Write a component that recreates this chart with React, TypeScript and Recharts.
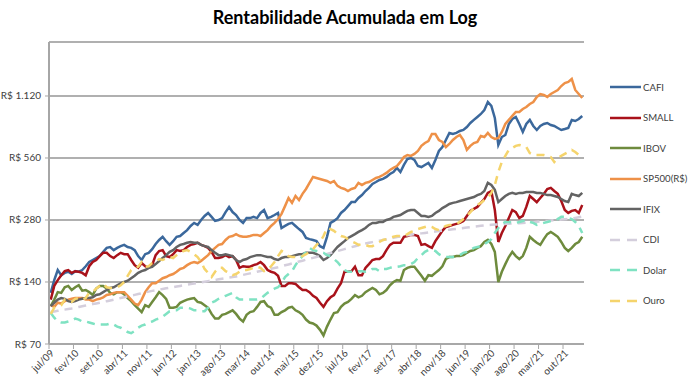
import { LineChart, Line, XAxis, YAxis, CartesianGrid } from "recharts"

document.body.style.margin = "0"

// month ticks (every 7 months, jul/09 .. out/21)
const tickLabels = [
  "jul/09", "fev/10", "set/10", "abr/11", "nov/11", "jun/12", "jan/13", "ago/13",
  "mar/14", "out/14", "mai/15", "dez/15", "jul/16", "fev/17", "set/17", "abr/18",
  "nov/18", "jun/19", "jan/20", "ago/20", "mar/21", "out/21",
]

const yTicks = [70, 140, 280, 560, 1120]

// monthly series, jul/09 .. mar/22
const cafi = [
  124, 143, 160, 151, 155, 157, 153, 158, 157, 160,
  167, 175, 179, 183, 187, 196, 205, 207, 200, 205,
  209, 212, 207, 205, 200, 187, 179, 191, 194, 202,
  214, 224, 232, 221, 212, 221, 232, 234, 242, 250,
  262, 271, 265, 280, 293, 303, 290, 277, 280, 286,
  306, 324, 306, 296, 280, 271, 286, 286, 290, 286,
  303, 313, 286, 290, 296, 303, 256, 262, 268, 271,
  262, 253, 245, 229, 226, 224, 221, 209, 205, 232,
  271, 277, 286, 303, 313, 327, 342, 342, 358, 370,
  387, 401, 419, 428, 438, 443, 453, 468, 479, 501,
  479, 518, 554, 560, 548, 512, 506, 518, 530, 501,
  548, 606, 633, 685, 741, 732, 741, 757, 766, 792,
  828, 857, 886, 916, 958, 1047, 1002, 876, 648, 708,
  724, 819, 866, 886, 819, 749, 819, 857, 801, 766,
  801, 819, 828, 810, 801, 783, 766, 774, 783, 857,
  847, 866, 896,
]

const small = [
  115, 134, 143, 151, 158, 160, 155, 158, 157, 155,
  151, 167, 175, 179, 187, 194, 194, 187, 183, 189,
  194, 191, 191, 179, 169, 164, 173, 167, 164, 169,
  189, 198, 200, 187, 185, 191, 200, 198, 200, 207,
  212, 214, 217, 212, 209, 205, 196, 183, 183, 185,
  189, 185, 187, 179, 164, 167, 166, 166, 169, 171,
  175, 169, 160, 157, 155, 150, 134, 134, 138, 138,
  137, 132, 128, 128, 125, 120, 117, 111, 106, 113,
  118, 121, 130, 138, 157, 157, 158, 166, 151, 151,
  164, 171, 179, 181, 181, 187, 200, 212, 217, 217,
  217, 232, 234, 237, 237, 234, 212, 214, 209, 205,
  221, 234, 248, 259, 262, 265, 268, 271, 277, 293,
  310, 317, 324, 339, 354, 379, 387, 313, 219, 242,
  262, 286, 313, 306, 286, 293, 324, 366, 354, 342,
  358, 375, 396, 401, 387, 375, 346, 313, 303, 310,
  313, 303, 331,
]

const ibov = [
  107, 115, 125, 124, 132, 134, 128, 132, 135, 127,
  128, 125, 121, 130, 134, 134, 130, 124, 122, 125,
  125, 122, 117, 113, 108, 104, 100, 108, 106, 112,
  118, 125, 121, 116, 105, 105, 106, 111, 113, 115,
  116, 117, 112, 111, 108, 105, 98, 93, 93, 97,
  98, 100, 102, 98, 93, 90, 97, 100, 101, 106,
  112, 113, 107, 105, 97, 97, 100, 102, 105, 106,
  102, 100, 97, 92, 89, 88, 86, 82, 77, 85,
  92, 99, 100, 106, 110, 112, 116, 121, 118, 120,
  125, 128, 131, 128, 122, 124, 128, 135, 140, 143,
  142, 160, 164, 166, 166, 158, 150, 142, 151, 150,
  155, 160, 167, 181, 185, 185, 187, 187, 189, 194,
  198, 200, 205, 209, 219, 224, 214, 196, 140, 157,
  171, 185, 196, 187, 181, 187, 205, 232, 224, 217,
  212, 226, 239, 245, 239, 232, 219, 205, 198, 205,
  214, 219, 232,
]

const sp500 = [
  108, 106, 111, 110, 113, 115, 116, 117, 117, 117,
  115, 115, 113, 115, 116, 118, 121, 122, 124, 125,
  125, 125, 120, 115, 110, 108, 115, 125, 132, 138,
  138, 142, 146, 148, 151, 153, 157, 162, 164, 169,
  173, 175, 173, 177, 183, 189, 198, 205, 212, 214,
  224, 232, 234, 239, 234, 232, 232, 234, 237, 237,
  234, 242, 250, 262, 271, 283, 300, 327, 358, 339,
  366, 350, 375, 396, 424, 453, 448, 443, 438, 433,
  424, 433, 410, 401, 396, 387, 396, 401, 424, 414,
  424, 428, 438, 448, 453, 463, 474, 490, 501, 512,
  536, 566, 579, 573, 586, 606, 641, 662, 677, 732,
  732, 685, 670, 633, 655, 685, 708, 724, 685, 613,
  641, 662, 670, 716, 708, 741, 708, 693, 700, 749,
  819, 857, 896, 937, 937, 969, 990, 1024, 1047, 1108,
  1145, 1133, 1108, 1145, 1171, 1198, 1252, 1295, 1310, 1354,
  1198, 1145, 1095,
]

const ifix = [
  107, 111, 115, 117, 116, 113, 112, 113, 115, 116,
  117, 117, 118, 121, 122, 125, 128, 131, 132, 135,
  138, 140, 142, 146, 150, 155, 158, 160, 164, 166,
  171, 177, 183, 189, 196, 200, 207, 212, 214, 217,
  219, 217, 217, 212, 209, 207, 200, 194, 189, 189,
  191, 189, 187, 179, 175, 179, 181, 185, 187, 189,
  189, 187, 185, 185, 181, 179, 183, 185, 185, 187,
  189, 191, 191, 194, 194, 194, 191, 187, 179, 183,
  189, 198, 207, 214, 221, 229, 234, 239, 245, 250,
  256, 265, 271, 271, 274, 274, 280, 283, 290, 293,
  296, 303, 310, 313, 313, 303, 293, 293, 290, 293,
  303, 310, 320, 327, 335, 339, 342, 346, 350, 354,
  358, 362, 370, 375, 387, 424, 414, 392, 342, 354,
  366, 375, 379, 375, 379, 379, 383, 383, 383, 379,
  379, 375, 370, 370, 366, 362, 354, 346, 342, 375,
  370, 366, 379,
]

const cdi = [
  100, 100.7, 101.4, 102.1, 102.8, 103.5, 104.2, 105, 105.9, 106.7,
  107.6, 108.5, 109.4, 110.2, 111.1, 112, 113, 113.9, 114.9, 115.9,
  117, 118, 119.1, 120.2, 121.2, 122.3, 123.4, 124.5, 125.7, 126.8,
  127.7, 128.6, 129.5, 130.4, 131.3, 132.2, 133.1, 134, 134.9, 135.8,
  136.7, 137.7, 138.6, 139.5, 140.4, 141.4, 142.3, 143.2, 144.2, 145.1,
  146.1, 147.1, 148, 149, 150.3, 151.6, 152.9, 154.2, 155.5, 156.9,
  158.2, 159.6, 161, 162.4, 163.8, 165.2, 166.9, 168.7, 170.4, 172.2,
  174, 175.9, 177.7, 179.6, 181.5, 183.4, 185.3, 187.2, 189.3, 191.4,
  193.5, 195.6, 197.8, 199.9, 202.1, 204.4, 206.6, 208.9, 211.2, 213.5,
  215.2, 216.9, 218.6, 220.4, 222.2, 223.9, 225.7, 227.5, 229.4, 231.2,
  233, 234.9, 236.1, 237.4, 238.6, 239.8, 241.1, 242.4, 243.6, 244.9,
  246.2, 247.4, 248.7, 250, 251.2, 252.4, 253.6, 254.8, 256.1, 257.3,
  258.5, 259.8, 261, 262.3, 263.5, 264.8, 265.4, 266, 266.6, 267.2,
  267.8, 268.5, 269.1, 269.7, 270.3, 271, 271.6, 272.2, 273.2, 274.2,
  275.2, 276.2, 277.2, 278.2, 279.2, 280.2, 281.2, 282.2, 283.2, 284.2,
  286.5, 288.7, 291,
]

const dolar = [
  99, 94, 90, 89, 89, 90, 91, 93, 92, 90,
  90, 89, 88, 87, 87, 87, 87, 88, 87, 85,
  84, 82, 80, 79, 81, 84, 86, 87, 89, 90,
  92, 93, 95, 98, 101, 102, 102, 105, 105, 105,
  104, 102, 102, 101, 101, 105, 111, 113, 116, 118,
  120, 122, 124, 118, 115, 115, 115, 115, 115, 115,
  116, 120, 124, 127, 130, 132, 138, 148, 153, 158,
  169, 179, 187, 196, 205, 200, 198, 196, 194, 189,
  187, 181, 175, 167, 160, 157, 157, 157, 158, 158,
  157, 158, 162, 162, 158, 162, 162, 164, 166, 166,
  167, 169, 169, 171, 175, 183, 189, 196, 200, 200,
  198, 191, 187, 185, 185, 185, 187, 189, 194, 196,
  200, 205, 207, 209, 214, 219, 226, 242, 256, 268,
  274, 274, 271, 271, 274, 277, 280, 274, 271, 265,
  268, 271, 274, 277, 280, 283, 290, 290, 286, 283,
  274, 262, 242,
]

const ouro = [
  98, 105, 106, 108, 115, 113, 112, 116, 117, 115,
  117, 124, 125, 130, 134, 137, 132, 131, 131, 132,
  135, 140, 150, 160, 164, 166, 175, 166, 167, 173,
  175, 181, 179, 183, 185, 183, 189, 194, 198, 200,
  196, 191, 185, 175, 162, 155, 148, 157, 164, 164,
  158, 155, 151, 153, 157, 160, 160, 162, 164, 166,
  164, 158, 160, 167, 175, 187, 198, 194, 187, 185,
  185, 185, 187, 191, 196, 202, 212, 219, 234, 256,
  253, 248, 239, 234, 232, 226, 221, 217, 212, 214,
  212, 209, 209, 214, 219, 224, 226, 229, 232, 234,
  234, 234, 239, 245, 248, 253, 256, 259, 262, 259,
  253, 250, 256, 262, 265, 265, 268, 274, 283, 293,
  306, 320, 331, 339, 350, 358, 379, 414, 479, 536,
  573, 613, 626, 641, 648, 641, 633, 592, 579, 579,
  579, 579, 573, 566, 536, 560, 573, 586, 599, 613,
  599, 579, 560,
]

const SERIES = [
  { key: "CAFI", values: cafi, color: "#3B689C", dashed: false },
  { key: "SMALL", values: small, color: "#A9121A", dashed: false },
  { key: "IBOV", values: ibov, color: "#6E8B3D", dashed: false },
  { key: "SP500(R$)", values: sp500, color: "#EE9148", dashed: false },
  { key: "IFIX", values: ifix, color: "#636363", dashed: false },
  { key: "CDI", values: cdi, color: "#D4CEDC", dashed: true },
  { key: "Dolar", values: dolar, color: "#7FE2C2", dashed: true },
  { key: "Ouro", values: ouro, color: "#F5D46C", dashed: true },
]

const chartData = cafi.map((_, i) => {
  const row: Record<string, number> = { idx: i + 0.5 }
  SERIES.forEach((s) => {
    row[s.key] = s.values[i]
  })
  return row
})

const FONT = "Lato, 'Liberation Sans', sans-serif"
const TEXT_COLOR = "#404040"
const AXIS_COLOR = "#A6A6A6"

function formatReais(v: number) {
  return "R$ " + String(v).replace(/\B(?=(\d{3})+(?!\d))/g, ".")
}

function MonthTick(props: any) {
  const { x, y, payload } = props
  return (
    <text
      x={x + 3}
      y={y}
      dy={4}
      textAnchor="end"
      transform={`rotate(-45, ${x + 3}, ${y})`}
      fontSize={10}
      fontFamily={FONT}
      fill={TEXT_COLOR}
    >
      {tickLabels[Math.round(payload.value / 7)]}
    </text>
  )
}

function ValueTick(props: any) {
  const { x, y, payload } = props
  return (
    <text
      x={x}
      y={y}
      dy={3.5}
      textAnchor="end"
      fontSize={10}
      fontFamily={FONT}
      fill={TEXT_COLOR}
    >
      {formatReais(payload.value)}
    </text>
  )
}

function ChartLegend() {
  return (
    <div style={{ position: "absolute", left: 610, top: 72, width: 80 }}>
      {SERIES.map((s) => (
        <div
          key={s.key}
          style={{
            display: "flex",
            alignItems: "center",
            height: 30.5,
            whiteSpace: "nowrap",
          }}
        >
          <svg width={31} height={6} style={{ flexShrink: 0 }}>
            <line
              x1={0}
              y1={3}
              x2={31}
              y2={3}
              stroke={s.color}
              strokeWidth={2.5}
              strokeDasharray={s.dashed ? "10 7" : undefined}
            />
          </svg>
          <span
            style={{
              marginLeft: 2,
              fontSize: 9.6,
              fontFamily: FONT,
              color: TEXT_COLOR,
            }}
          >
            {s.key}
          </span>
        </div>
      ))}
    </div>
  )
}

export default function App() {
  return (
    <div
      style={{
        position: "relative",
        width: 690,
        height: 389,
        background: "#FFFFFF",
        fontFamily: FONT,
      }}
    >
      <div
        style={{
          position: "absolute",
          top: 6,
          left: 0,
          width: 690,
          textAlign: "center",
          fontSize: 18,
          fontWeight: 700,
          color: "#000000",
        }}
      >
        Rentabilidade Acumulada em Log
      </div>
      <LineChart
        width={690}
        height={389}
        data={chartData}
        margin={{ top: 42, right: 106, left: 0, bottom: 0 }}
      >
        <CartesianGrid vertical={false} stroke="#969696" strokeWidth={1.5} />
        <XAxis
          dataKey="idx"
          type="number"
          domain={[0, cafi.length]}
          ticks={tickLabels.map((_, k) => k * 7)}
          interval={0}
          height={45}
          axisLine={{ stroke: AXIS_COLOR, strokeWidth: 1.5 }}
          tickLine={{ stroke: AXIS_COLOR }}
          tickSize={5}
          tickMargin={2}
          tick={<MonthTick />}
        />
        <YAxis
          type="number"
          scale="log"
          domain={[70, 2048]}
          allowDataOverflow
          ticks={yTicks}
          interval={0}
          width={49}
          axisLine={{ stroke: AXIS_COLOR, strokeWidth: 2 }}
          tickLine={{ stroke: AXIS_COLOR }}
          tickSize={4}
          tickMargin={4}
          tick={<ValueTick />}
        />
        {SERIES.map((s) => (
          <Line
            key={s.key}
            type="linear"
            dataKey={s.key}
            stroke={s.color}
            strokeWidth={2.5}
            strokeDasharray={s.dashed ? "8 6" : undefined}
            dot={false}
            activeDot={false}
            isAnimationActive={false}
          />
        ))}
      </LineChart>
      <ChartLegend />
    </div>
  )
}
